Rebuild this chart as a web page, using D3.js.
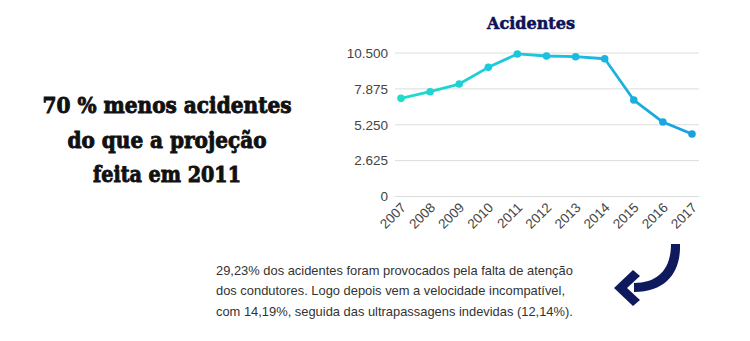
<!DOCTYPE html>
<html>
<head>
<meta charset="utf-8">
<script src="https://cdn.jsdelivr.net/npm/d3@7"></script>
<style>
body { margin: 0; background: #fff; }
</style>
</head>
<body>
<svg id="chart" width="750" height="341"></svg>
<script>
var years = ["2007","2008","2009","2010","2011","2012","2013","2014","2015","2016","2017"]
var accidents = [7180, 7670, 8230, 9450, 10430, 10280, 10230, 10080, 7060, 5450, 4570]
var yTicks = [0, 2625, 5250, 7875, 10500]
var headline = ["70 % menos acidentes", "do que a projeção", "feita em 2011"]
var note = ["29,23% dos acidentes foram provocados pela falta de atenção",
            "dos condutores. Logo depois vem a velocidade incompatível,",
            "com 14,19%, seguida das ultrapassagens indevidas (12,14%)."]

var svg = d3.select("#chart")

var gridLeft = 395
var gridRight = 699

var x = d3.scalePoint()
    .domain(years)
    .range([401, 692])

var y = d3.scaleLinear()
    .domain([0, 10500])
    .range([196.5, 53])

var fmt = d3.format(",")
function tickText(d) {
    // brazilian style: dot for thousands
    return fmt(d).replace(/,/g, ".")
}

// gradient for line + dots
var defs = svg.append("defs")
var grad = defs.append("linearGradient")
    .attr("id", "lineGrad")
    .attr("gradientUnits", "userSpaceOnUse")
    .attr("x1", x(years[0])).attr("x2", x(years[years.length - 1]))
    .attr("y1", 0).attr("y2", 0)
grad.append("stop").attr("offset", "0%").attr("stop-color", "#1fdccc")
grad.append("stop").attr("offset", "55%").attr("stop-color", "#1cc0e0")
grad.append("stop").attr("offset", "100%").attr("stop-color", "#1a9fe0")

var colorAt = d3.scaleLinear()
    .domain([x(years[0]), x(years[5]), x(years[years.length - 1])])
    .range(["#1fdccc", "#1cc0e0", "#1a9fe0"])

// gridlines
svg.append("g")
    .attr("id", "grid")
    .selectAll("line")
    .data(yTicks)
    .enter()
    .append("line")
    .attr("x1", gridLeft)
    .attr("x2", gridRight)
    .attr("y1", function(d) { return y(d) })
    .attr("y2", function(d) { return y(d) })
    .attr("stroke", "#dcdcdc")
    .attr("stroke-width", 1)

// y axis labels
var yAxis = d3.axisLeft(y)
    .tickValues(yTicks)
    .tickFormat(tickText)
    .tickSize(0)
    .tickPadding(0)
var yg = svg.append("g")
    .attr("transform", "translate(388,0)")
    .call(yAxis)
yg.select(".domain").remove()
yg.selectAll("text")
    .attr("fill", "#444")
    .attr("font-family", "Liberation Sans, Arial, sans-serif")
    .attr("font-size", "13.5px")

// x axis labels, rotated
var xAxis = d3.axisBottom(x)
    .tickSize(0)
    .tickPadding(0)
var xg = svg.append("g")
    .attr("transform", "translate(0,205)")
    .call(xAxis)
xg.select(".domain").remove()
xg.selectAll("text")
    .attr("fill", "#444")
    .attr("font-family", "Liberation Sans, Arial, sans-serif")
    .attr("font-size", "13.5px")
    .attr("text-anchor", "end")
    .attr("dy", "0.35em")
    .attr("transform", "translate(2,0) rotate(-45)")

// line
var lineFunction = d3.line()
    .x(function(d, i) { return x(years[i]) })
    .y(function(d) { return y(d) })

svg.append("path")
    .attr("d", lineFunction(accidents))
    .attr("fill", "none")
    .attr("stroke", "url(#lineGrad)")
    .attr("stroke-width", 2.8)
    .attr("stroke-linejoin", "round")

svg.append("g")
    .selectAll("circle")
    .data(accidents)
    .enter()
    .append("circle")
    .attr("cx", function(d, i) { return x(years[i]) })
    .attr("cy", function(d) { return y(d) })
    .attr("r", 3.8)
    .attr("fill", function(d, i) { return colorAt(x(years[i])) })

// chart title
svg.append("text")
    .attr("x", 531)
    .attr("y", 29)
    .attr("text-anchor", "middle")
    .attr("fill", "#0e1258")
    .attr("stroke", "#0e1258")
    .attr("stroke-width", 0.6)
    .attr("font-family", "DejaVu Serif, serif")
    .attr("font-weight", "bold")
    .attr("font-size", "17px")
    .attr("textLength", 88)
    .attr("lengthAdjust", "spacingAndGlyphs")
    .text("Acidentes")

// headline on the left
var headWidths = [249, 199, 148]
svg.append("g")
    .selectAll("text")
    .data(headline)
    .enter()
    .append("text")
    .attr("x", 167)
    .attr("y", function(d, i) { return 113 + i * 34.5 })
    .attr("text-anchor", "middle")
    .attr("fill", "#111")
    .attr("stroke", "#111")
    .attr("stroke-width", 0.9)
    .attr("font-family", "DejaVu Serif, serif")
    .attr("font-weight", "bold")
    .attr("font-size", "22px")
    .attr("textLength", function(d, i) { return headWidths[i] })
    .attr("lengthAdjust", "spacingAndGlyphs")
    .text(function(d) { return d })

// note paragraph
svg.append("g")
    .selectAll("text")
    .data(note)
    .enter()
    .append("text")
    .attr("x", 216)
    .attr("y", function(d, i) { return 275 + i * 20.3 })
    .attr("fill", "#333")
    .attr("font-family", "Liberation Sans, Arial, sans-serif")
    .attr("font-size", "12.9px")
    .text(function(d) { return d })

// curved arrow
var arrow = svg.append("g").attr("fill", "#0f1a5e")
arrow.append("path")
    .attr("d", "M671,244 L680,244 C681,270 668,292 634,292 L634,283 C659,283 671,268 671,244 Z")
arrow.append("path")
    .attr("d", "M614,288 L633,270 L640,276 L627,288 L640,300 L633,306 Z")
</script>
</body>
</html>
